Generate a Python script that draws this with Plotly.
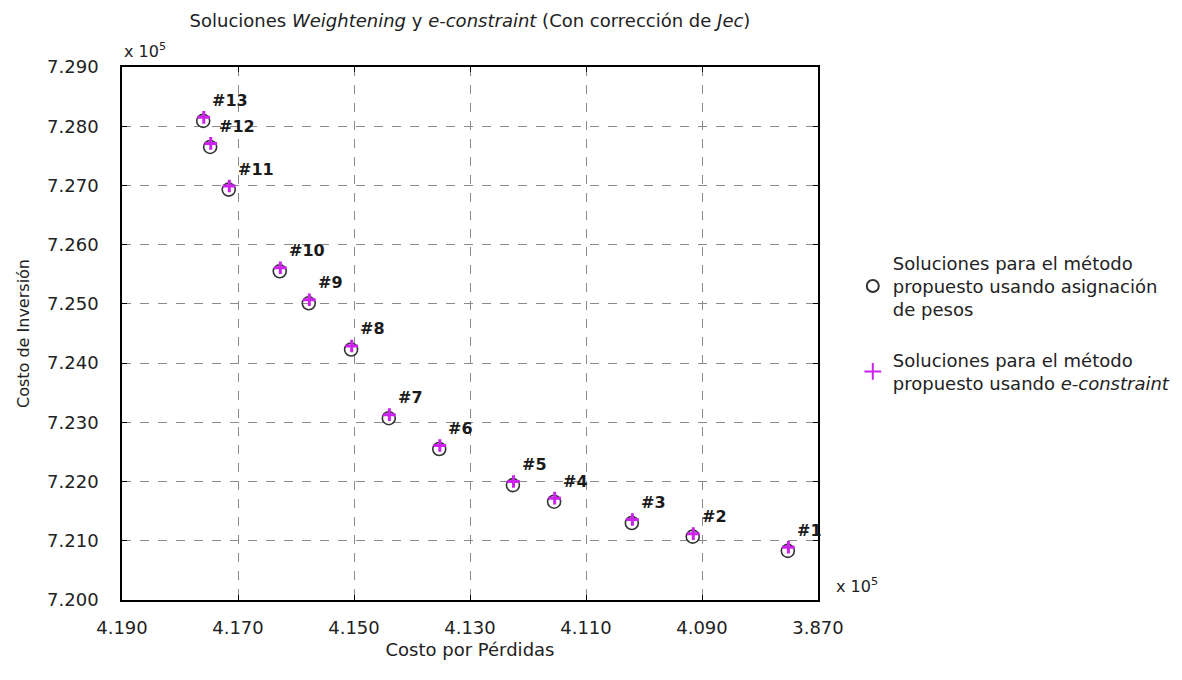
import plotly.graph_objects as go

# ---- data (x in 10^5 units "Costo por Pérdidas", y in 10^5 units "Costo de Inversión")
labels = ["#1", "#2", "#3", "#4", "#5", "#6", "#7", "#8", "#9", "#10", "#11", "#12", "#13"]
x_weights = [4.0752, 4.0916, 4.1021, 4.1155, 4.1226, 4.1353, 4.1440, 4.1505, 4.1578, 4.1628, 4.1716, 4.1748, 4.1760]
y_weights = [7.2083, 7.2107, 7.2130, 7.2166, 7.2194, 7.2255, 7.2307, 7.2423, 7.2501, 7.2555, 7.2693, 7.2765, 7.2809]
x_econs = [4.0751, 4.0915, 4.1020, 4.1154, 4.1225, 4.1352, 4.1439, 4.1504, 4.1577, 4.1627, 4.1715, 4.1747, 4.1759]
y_econs = [7.2089, 7.2112, 7.2136, 7.2172, 7.2200, 7.2261, 7.2313, 7.2429, 7.2507, 7.2561, 7.2699, 7.2771, 7.2815]

x_tickvals = [4.190, 4.170, 4.150, 4.130, 4.110, 4.090, 4.070]
x_ticktext = ["4.190", "4.170", "4.150", "4.130", "4.110", "4.090", "3.870"]
y_tickvals = [7.200, 7.210, 7.220, 7.230, 7.240, 7.250, 7.260, 7.270, 7.280, 7.290]
y_ticktext = ["7.200", "7.210", "7.220", "7.230", "7.240", "7.250", "7.260", "7.270", "7.280", "7.290"]

FONT = "DejaVu Sans, Liberation Sans, sans-serif"
TXT = "#222222"

fig = go.Figure()
fig.add_trace(go.Scatter(
    x=x_weights, y=y_weights, mode="markers", legendgroup="w",
    name="Soluciones para el método<br>propuesto usando asignación<br>de pesos",
    marker=dict(symbol="circle-open", size=13, color="#333333", line=dict(width=1.6, color="#333333")),
))
fig.add_trace(go.Scatter(
    x=x_econs, y=y_econs, mode="markers", legendgroup="e",
    name="Soluciones para el método<br>propuesto usando <i>e-constraint</i>",
    marker=dict(symbol="cross-thin", size=9, color="#cc22ee", line=dict(width=3, color="#cc22ee")),
))

for lab, xv, yv in zip(labels, x_weights, y_weights):
    fig.add_annotation(x=xv, y=yv, text="<b>" + lab + "</b>", showarrow=False,
                       xanchor="left", yanchor="bottom", xshift=7, yshift=9,
                       font=dict(family="DejaVu Sans, sans-serif", size=16, color="#1a1a1a"))

# axis multipliers
fig.add_annotation(xref="paper", yref="paper", x=0.0, y=1.0, xanchor="left", yanchor="bottom",
                   yshift=4, showarrow=False, text="x 10<sup>5</sup>",
                   font=dict(family=FONT, size=16, color=TXT))
fig.add_annotation(xref="paper", yref="paper", x=1.0, y=0.0, xanchor="left", yanchor="bottom",
                   xshift=16, yshift=2, showarrow=False, text="x 10<sup>5</sup>",
                   font=dict(family=FONT, size=16, color=TXT))

axis_common = dict(
    showline=True, linecolor="black", linewidth=1.5, mirror="ticks",
    ticks="inside", ticklen=5, tickcolor="black", tickwidth=1,
    showgrid=True, gridcolor="#8a8a8a", griddash="dash", gridwidth=1,
    zeroline=False, tickfont=dict(family=FONT, size=18, color=TXT),
    automargin=False,
)

fig.update_xaxes(range=[4.190, 4.070], tickvals=x_tickvals, ticktext=x_ticktext,
                 ticklabelstandoff=11,
                 title=dict(text="Costo por Pérdidas", font=dict(family=FONT, size=18, color=TXT), standoff=6),
                 **axis_common)
fig.update_yaxes(range=[7.200, 7.290], tickvals=y_tickvals, ticktext=y_ticktext,
                 ticklabelstandoff=18,
                 title=dict(text="Costo de Inversión", font=dict(family=FONT, size=16, color=TXT), standoff=14),
                 **axis_common)

fig.update_layout(
    width=1182, height=680,
    margin=dict(l=122, r=364, t=67, b=80, autoexpand=False),
    paper_bgcolor="white", plot_bgcolor="white",
    title=dict(text="Soluciones <i>Weightening</i> y <i>e-constraint</i> (Con corrección de <i>Jec</i>)",
               x=0.5, xref="paper", xanchor="center", y=0.97, yanchor="middle",
               font=dict(family=FONT, size=18, color=TXT)),
    legend=dict(x=1.05, xref="paper", y=0.52, yanchor="middle", xanchor="left",
                font=dict(family=FONT, size=18, color=TXT),
                bgcolor="rgba(0,0,0,0)", borderwidth=0, tracegroupgap=24,
                itemsizing="constant"),
    showlegend=True,
)

fig.write_html("out.html")
